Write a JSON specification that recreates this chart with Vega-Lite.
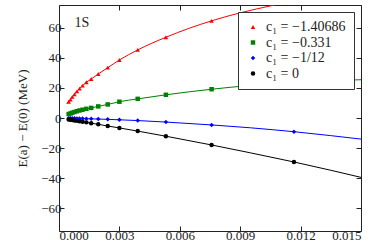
{
  "$schema": "https://vega.github.io/schema/vega-lite/v6.json",
  "width": 302,
  "height": 226,
  "autosize": "none",
  "padding": {"left": 59, "top": 5, "right": 21, "bottom": 18},
  "background": "white",
  "config": {
    "view": {"stroke": "#222", "strokeWidth": 1},
    "font": "Liberation Serif, serif",
    "axis": {
      "grid": false, "domain": false, "tickColor": "#222", "tickSize": -5, "tickWidth": 1,
      "labelFont": "Liberation Serif, serif", "labelFontSize": 13, "labelColor": "#222", "labelPadding": 3,
      "titleFont": "Liberation Serif, serif", "titleFontSize": 13, "titleFontWeight": "normal", "titleColor": "#222"
    },
    "legend": {
      "orient": "top-right", "offset": 7, "strokeColor": "#333", "fillColor": "white", "padding": 8,
      "cornerRadius": 0, "labelFont": "Liberation Serif, serif", "labelFontSize": 14, "labelColor": "#222",
      "symbolSize": 20, "rowPadding": 1.5, "symbolStrokeWidth": 0, "labelOffset": 6
    }
  },
  "datasets": {
    "curves": [
      {"x": 0.0004, "y": 9.6, "s": "r"}, {"x": 0.00048, "y": 10.8, "s": "r"}, {"x": 0.00057, "y": 12.2, "s": "r"}, {"x": 0.00066, "y": 14.0, "s": "r"}, {"x": 0.00077, "y": 15.7, "s": "r"}, {"x": 0.00089, "y": 17.7, "s": "r"}, {"x": 0.00102, "y": 19.5, "s": "r"}, {"x": 0.00117, "y": 21.5, "s": "r"}, {"x": 0.00136, "y": 23.7, "s": "r"}, {"x": 0.0016, "y": 25.9, "s": "r"}, {"x": 0.00195, "y": 29.2, "s": "r"}, {"x": 0.00242, "y": 33.4, "s": "r"}, {"x": 0.003, "y": 38.5, "s": "r"}, {"x": 0.00391, "y": 45.2, "s": "r"}, {"x": 0.00531, "y": 53.6, "s": "r"}, {"x": 0.00758, "y": 64.5, "s": "r"}, {"x": 0.009, "y": 69.8, "s": "r"}, {"x": 0.0107, "y": 75.0, "s": "r"}, {"x": 0.012, "y": 78.8, "s": "r"},
      {"x": 0.0004, "y": 2.3, "s": "g"}, {"x": 0.00048, "y": 2.6, "s": "g"}, {"x": 0.00057, "y": 3.0, "s": "g"}, {"x": 0.00066, "y": 3.5, "s": "g"}, {"x": 0.00077, "y": 4.0, "s": "g"}, {"x": 0.00089, "y": 4.5, "s": "g"}, {"x": 0.00102, "y": 5.0, "s": "g"}, {"x": 0.00117, "y": 5.5, "s": "g"}, {"x": 0.00136, "y": 6.1, "s": "g"}, {"x": 0.0016, "y": 6.7, "s": "g"}, {"x": 0.00195, "y": 7.7, "s": "g"}, {"x": 0.00242, "y": 9.0, "s": "g"}, {"x": 0.003, "y": 10.8, "s": "g"}, {"x": 0.00391, "y": 12.7, "s": "g"}, {"x": 0.00531, "y": 15.4, "s": "g"}, {"x": 0.00758, "y": 19.1, "s": "g"}, {"x": 0.0095, "y": 21.6, "s": "g"}, {"x": 0.01167, "y": 23.7, "s": "g"}, {"x": 0.0135, "y": 24.8, "s": "g"}, {"x": 0.015, "y": 25.4, "s": "g"},
      {"x": 0.0004, "y": -0.1, "s": "b"}, {"x": 0.00048, "y": -0.1, "s": "b"}, {"x": 0.00057, "y": -0.1, "s": "b"}, {"x": 0.00066, "y": -0.15, "s": "b"}, {"x": 0.00077, "y": -0.2, "s": "b"}, {"x": 0.00089, "y": -0.25, "s": "b"}, {"x": 0.00102, "y": -0.3, "s": "b"}, {"x": 0.00117, "y": -0.35, "s": "b"}, {"x": 0.00136, "y": -0.45, "s": "b"}, {"x": 0.0016, "y": -0.55, "s": "b"}, {"x": 0.00195, "y": -0.7, "s": "b"}, {"x": 0.00242, "y": -0.9, "s": "b"}, {"x": 0.003, "y": -1.2, "s": "b"}, {"x": 0.00391, "y": -1.7, "s": "b"}, {"x": 0.00531, "y": -2.7, "s": "b"}, {"x": 0.00758, "y": -4.6, "s": "b"}, {"x": 0.0095, "y": -6.5, "s": "b"}, {"x": 0.01167, "y": -9.1, "s": "b"}, {"x": 0.0135, "y": -11.7, "s": "b"}, {"x": 0.015, "y": -14.0, "s": "b"},
      {"x": 0.0004, "y": -0.85, "s": "k"}, {"x": 0.00048, "y": -1.0, "s": "k"}, {"x": 0.00057, "y": -1.2, "s": "k"}, {"x": 0.00066, "y": -1.4, "s": "k"}, {"x": 0.00077, "y": -1.6, "s": "k"}, {"x": 0.00089, "y": -1.9, "s": "k"}, {"x": 0.00102, "y": -2.2, "s": "k"}, {"x": 0.00117, "y": -2.5, "s": "k"}, {"x": 0.00136, "y": -2.9, "s": "k"}, {"x": 0.0016, "y": -3.45, "s": "k"}, {"x": 0.00195, "y": -4.2, "s": "k"}, {"x": 0.00242, "y": -5.3, "s": "k"}, {"x": 0.003, "y": -6.6, "s": "k"}, {"x": 0.00391, "y": -8.7, "s": "k"}, {"x": 0.00531, "y": -12.1, "s": "k"}, {"x": 0.00758, "y": -17.9, "s": "k"}, {"x": 0.0095, "y": -23.1, "s": "k"}, {"x": 0.01167, "y": -29.2, "s": "k"}, {"x": 0.0135, "y": -34.7, "s": "k"}, {"x": 0.015, "y": -39.4, "s": "k"}
    ],
    "points": [
      {"x": 0.00048, "y": 10.8, "s": "c₁ = −1.40686"}, {"x": 0.00057, "y": 12.2, "s": "c₁ = −1.40686"}, {"x": 0.00066, "y": 14.0, "s": "c₁ = −1.40686"}, {"x": 0.00077, "y": 15.7, "s": "c₁ = −1.40686"}, {"x": 0.00089, "y": 17.7, "s": "c₁ = −1.40686"}, {"x": 0.00102, "y": 19.5, "s": "c₁ = −1.40686"}, {"x": 0.00117, "y": 21.5, "s": "c₁ = −1.40686"}, {"x": 0.00136, "y": 23.7, "s": "c₁ = −1.40686"}, {"x": 0.0016, "y": 25.9, "s": "c₁ = −1.40686"}, {"x": 0.00195, "y": 29.2, "s": "c₁ = −1.40686"}, {"x": 0.00242, "y": 33.4, "s": "c₁ = −1.40686"}, {"x": 0.003, "y": 38.5, "s": "c₁ = −1.40686"}, {"x": 0.00391, "y": 45.2, "s": "c₁ = −1.40686"}, {"x": 0.00531, "y": 53.6, "s": "c₁ = −1.40686"}, {"x": 0.00758, "y": 64.5, "s": "c₁ = −1.40686"},
      {"x": 0.00048, "y": 2.6, "s": "c₁ = −0.331"}, {"x": 0.00057, "y": 3.0, "s": "c₁ = −0.331"}, {"x": 0.00066, "y": 3.5, "s": "c₁ = −0.331"}, {"x": 0.00077, "y": 4.0, "s": "c₁ = −0.331"}, {"x": 0.00089, "y": 4.5, "s": "c₁ = −0.331"}, {"x": 0.00102, "y": 5.0, "s": "c₁ = −0.331"}, {"x": 0.00117, "y": 5.5, "s": "c₁ = −0.331"}, {"x": 0.00136, "y": 6.1, "s": "c₁ = −0.331"}, {"x": 0.0016, "y": 6.7, "s": "c₁ = −0.331"}, {"x": 0.00195, "y": 7.7, "s": "c₁ = −0.331"}, {"x": 0.00242, "y": 9.0, "s": "c₁ = −0.331"}, {"x": 0.003, "y": 10.8, "s": "c₁ = −0.331"}, {"x": 0.00391, "y": 12.7, "s": "c₁ = −0.331"}, {"x": 0.00531, "y": 15.4, "s": "c₁ = −0.331"}, {"x": 0.00758, "y": 19.1, "s": "c₁ = −0.331"}, {"x": 0.01167, "y": 23.7, "s": "c₁ = −0.331"},
      {"x": 0.00048, "y": -0.1, "s": "c₁ = −1/12"}, {"x": 0.00057, "y": -0.1, "s": "c₁ = −1/12"}, {"x": 0.00066, "y": -0.15, "s": "c₁ = −1/12"}, {"x": 0.00077, "y": -0.2, "s": "c₁ = −1/12"}, {"x": 0.00089, "y": -0.25, "s": "c₁ = −1/12"}, {"x": 0.00102, "y": -0.3, "s": "c₁ = −1/12"}, {"x": 0.00117, "y": -0.35, "s": "c₁ = −1/12"}, {"x": 0.00136, "y": -0.45, "s": "c₁ = −1/12"}, {"x": 0.0016, "y": -0.55, "s": "c₁ = −1/12"}, {"x": 0.00195, "y": -0.7, "s": "c₁ = −1/12"}, {"x": 0.00242, "y": -0.9, "s": "c₁ = −1/12"}, {"x": 0.003, "y": -1.2, "s": "c₁ = −1/12"}, {"x": 0.00391, "y": -1.7, "s": "c₁ = −1/12"}, {"x": 0.00531, "y": -2.7, "s": "c₁ = −1/12"}, {"x": 0.00758, "y": -4.6, "s": "c₁ = −1/12"}, {"x": 0.01167, "y": -9.1, "s": "c₁ = −1/12"},
      {"x": 0.00048, "y": -1.0, "s": "c₁ = 0"}, {"x": 0.00057, "y": -1.2, "s": "c₁ = 0"}, {"x": 0.00066, "y": -1.4, "s": "c₁ = 0"}, {"x": 0.00077, "y": -1.6, "s": "c₁ = 0"}, {"x": 0.00089, "y": -1.9, "s": "c₁ = 0"}, {"x": 0.00102, "y": -2.2, "s": "c₁ = 0"}, {"x": 0.00117, "y": -2.5, "s": "c₁ = 0"}, {"x": 0.00136, "y": -2.9, "s": "c₁ = 0"}, {"x": 0.0016, "y": -3.45, "s": "c₁ = 0"}, {"x": 0.00195, "y": -4.2, "s": "c₁ = 0"}, {"x": 0.00242, "y": -5.3, "s": "c₁ = 0"}, {"x": 0.003, "y": -6.6, "s": "c₁ = 0"}, {"x": 0.00391, "y": -8.7, "s": "c₁ = 0"}, {"x": 0.00531, "y": -12.1, "s": "c₁ = 0"}, {"x": 0.00758, "y": -17.9, "s": "c₁ = 0"}, {"x": 0.01167, "y": -29.2, "s": "c₁ = 0"}
    ],
    "label": [{"x": 0.00114, "y": 63, "t": "1S"}]
  },
  "layer": [
    {
      "data": {"name": "curves"},
      "mark": {"type": "line", "interpolate": "monotone", "strokeWidth": 1, "clip": true},
      "encoding": {
        "x": {"field": "x", "type": "quantitative", "scale": {"domain": [0, 0.015], "nice": false},
              "axis": {"orient": "bottom", "values": [0, 0.003, 0.006, 0.009, 0.012, 0.015], "format": ".3f", "title": null}},
        "y": {"field": "y", "type": "quantitative", "scale": {"domain": [-75, 75], "nice": false},
              "axis": {"orient": "left", "values": [-60, -40, -20, 0, 20, 40, 60], "title": "E(a) − E(0)  (MeV)", "titlePadding": 11}},
        "stroke": {"field": "s", "type": "nominal", "scale": {"domain": ["r", "g", "b", "k"], "range": ["#ff0000", "#008000", "#0000ff", "#000000"]}, "legend": null},
        "detail": {"field": "s"}
      }
    },
    {
      "mark": {"type": "rule", "strokeDash": [5, 3], "color": "#333", "strokeWidth": 1},
      "encoding": {"y": {"datum": 0, "type": "quantitative", "axis": null}}
    },
    {
      "data": {"name": "points"},
      "mark": {"type": "point", "filled": true, "opacity": 1, "size": 20, "clip": true},
      "encoding": {
        "x": {"field": "x", "type": "quantitative",
              "axis": {"orient": "top", "values": [0, 0.003, 0.006, 0.009, 0.012, 0.015], "labels": false, "title": null}},
        "y": {"field": "y", "type": "quantitative",
              "axis": {"orient": "right", "values": [-60, -40, -20, 0, 20, 40, 60], "labels": false, "title": null}},
        "color": {"field": "s", "type": "nominal", "scale": {"domain": ["c₁ = −1.40686", "c₁ = −0.331", "c₁ = −1/12", "c₁ = 0"], "range": ["#ff0000", "#008000", "#0000ff", "#000000"]}, "legend": {"title": null}},
        "shape": {"field": "s", "type": "nominal", "scale": {"domain": ["c₁ = −1.40686", "c₁ = −0.331", "c₁ = −1/12", "c₁ = 0"], "range": ["triangle-up", "square", "diamond", "circle"]}, "legend": {"title": null}}
      }
    },
    {
      "data": {"name": "label"},
      "mark": {"type": "text", "fontSize": 14, "font": "Liberation Serif, serif", "color": "#222"},
      "encoding": {
        "x": {"field": "x", "type": "quantitative", "axis": null},
        "y": {"field": "y", "type": "quantitative", "axis": null},
        "text": {"field": "t"}
      }
    }
  ],
  "resolve": {"axis": {"x": "independent", "y": "independent"}}
}
